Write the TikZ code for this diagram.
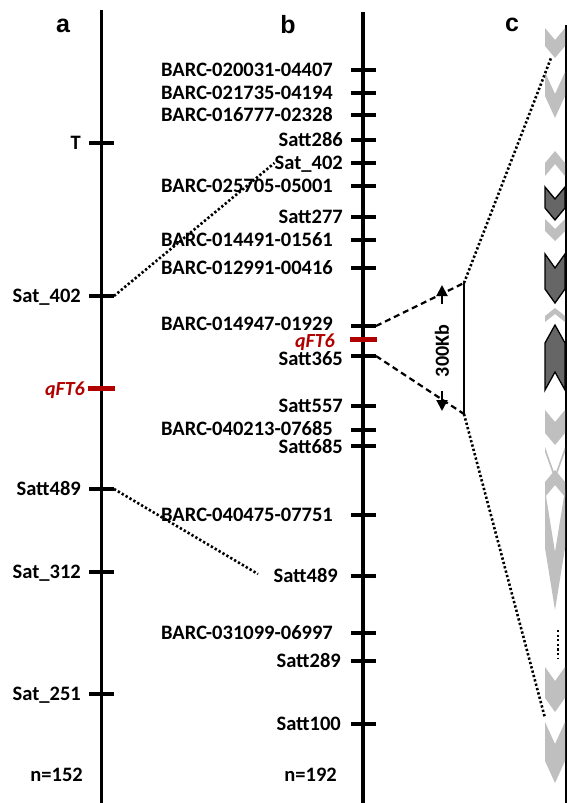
\documentclass[tikz,border=0pt]{standalone}
\usepackage{fontspec}
\setmainfont{Carlito}
\newfontfamily\panelfont{Liberation Sans}
\usetikzlibrary{arrows.meta}
\definecolor{qred}{RGB}{176,0,0}
\definecolor{gLight}{RGB}{191,191,191}
\definecolor{gDark}{RGB}{102,102,102}
\newcommand\chevD[4]{\path[#4] (545,#1) -- (555,{#1+#3}) -- (565,#1) -- (565,{#2-#3}) -- (555,#2) -- (545,{#2-#3}) -- cycle;}
\newcommand\chevU[4]{\path[#4] (545,{#1+#3}) -- (555,#1) -- (565,{#1+#3}) -- (565,#2) -- (555,{#2-#3}) -- (545,#2) -- cycle;}
\begin{document}
\begin{tikzpicture}[x=1pt,y=-1pt,
  chrom/.style={line width=3.2pt},
  tickm/.style={line width=3.2pt},
  qtl/.style={line width=5pt, draw=qred},
  lbl/.style={anchor=east, inner sep=0pt, text height=12pt, text depth=0pt,
    font=\fontsize{20.5}{20.5}\selectfont\bfseries},
  qlbl/.style={lbl, text=qred, font=\fontsize{20}{20}\selectfont\bfseries\itshape},
  panel/.style={inner sep=0pt, font=\panelfont\fontsize{25}{25}\selectfont\bfseries},
  dotl/.style={line width=2.6pt, dash pattern=on 2.3pt off 2.2pt},
  dashl/.style={line width=2.2pt, dash pattern=on 6pt off 4pt},
  arr/.style={line width=2pt, -{Triangle[length=11pt,width=11pt]}},
  lightg/.style={fill=gLight, draw=none},
  darkg/.style={fill=gDark, draw=black, line width=1.3pt},
]
\useasboundingbox (0,0) rectangle (567,803);
% panel labels
\node[panel] (pa) at (63,26) {a};
\node[panel] (pb) at (288,25) {b};
\node[panel] (pc) at (512,25) {c};
% chromosome a
\coordinate (aTop) at (101.5,10); \coordinate (aBot) at (101.5,803);
\draw[chrom] (aTop) -- (aBot);
\foreach \n/\y/\t in {T/143/T, S402/296/Sat\_402, S489/489/Satt489, S312/572/Sat\_312, S251/694/Sat\_251}{
  \coordinate (a\n W) at (89,\y); \coordinate (a\n E) at (114,\y);
  \draw[tickm] (a\n W) -- (a\n E);
  \node[lbl] (a\n L) at (81,\y) {\t};
}
\coordinate (aQW) at (88,388); \coordinate (aQE) at (115,388);
\draw[qtl] (aQW) -- (aQE);
\node[qlbl] (aQL) at (85,389) {qFT6};
\node[lbl] (aN) at (83,775) {n=152};
% chromosome b
\coordinate (bTop) at (363,12); \coordinate (bBot) at (363,803);
\draw[chrom] (bTop) -- (bBot);
\foreach \n/\y/\ly/\x/\t in {
  b1/70/70/333/BARC-020031-04407, b2/93/93/333/BARC-021735-04194, b3/115/115/333/BARC-016777-02328,
  b4/140/140/343/Satt286, b5/163/163/343/Sat\_402, b6/186/186/333/BARC-025705-05001,
  b7/217/217/343/Satt277, b8/240/240/333/BARC-014491-01561, b9/268/268/333/BARC-012991-00416,
  b10/326/324/333/BARC-014947-01929, b11/356/359/343/Satt365, b12/406/406/343/Satt557,
  b13/430/429/333/BARC-040213-07685, b14/446/447/343/Satt685, b15/515/515/333/BARC-040475-07751,
  b16/576/576/338/Satt489, b17/633/633/333/BARC-031099-06997, b18/661/661/341/Satt289,
  b19/724/724/341/Satt100}{
  \coordinate (\n W) at (351,\y); \coordinate (\n E) at (376,\y);
  \draw[tickm] (\n W) -- (\n E);
  \node[lbl] (\n L) at (\x,\ly) {\t};
}
\coordinate (bQW) at (350,339); \coordinate (bQE) at (377,339);
\draw[qtl] (bQW) -- (bQE);
\node[qlbl] (bQL) at (335,341.5) {qFT6};
\node[lbl] (bN) at (337,775) {n=192};
% links a -> b
\draw[dotl] (aS402E) -- (b5L.west);
\coordinate (b16end) at (258,574);
\draw[dotl] (aS489E) -- (b16end);
% bracket and 300 Kb
\coordinate (brT) at (464,283); \coordinate (brB) at (464,414);
\draw[line width=2.4pt] (brT) -- (brB);
\draw[dashl] (b10E) -- (brT);
\draw[dashl] (b11E) -- (brB);
\node[inner sep=0pt, rotate=90, font=\fontsize{20}{20}\selectfont\bfseries] (kb) at (442,351) {300Kb};
\coordinate (upT) at (442,285); \coordinate (upS) at (442,304);
\coordinate (dnS) at (442,391); \coordinate (dnT) at (442,411);
\draw[arr] (upS) -- (upT);
\draw[arr] (dnS) -- (dnT);
% column c
\coordinate (cTop) at (566,25); \coordinate (cBot) at (566,803);
\draw[line width=2.6pt] (cTop) -- (cBot);
\chevD{28}{58}{12}{lightg}
\chevD{72}{118}{22}{lightg}
\chevU{151}{176}{12}{lightg}
\chevD{187}{220}{12}{darkg}
\chevD{219}{241}{10}{lightg}
\chevD{254}{303}{14}{darkg}
\chevU{308}{322}{8}{lightg}
\chevU{325}{390}{18}{darkg}
\chevD{410}{445}{12}{lightg}
\chevD{447}{480}{28}{lightg}
\chevU{470}{497}{12}{lightg}
\chevD{490}{610}{62}{lightg}
\chevD{667}{712}{14}{lightg}
\chevD{722}{783}{22}{lightg}
\coordinate (elT) at (558,630); \coordinate (elB) at (558,658);
\draw[line width=2.6pt, dash pattern=on 2.2pt off 2.4pt] (elT) -- (elB);
\coordinate (c1) at (551,58); \coordinate (c2) at (545,718);
\draw[dotl] (brT) -- (c1);
\draw[dotl] (brB) -- (c2);
\end{tikzpicture}
\end{document}
